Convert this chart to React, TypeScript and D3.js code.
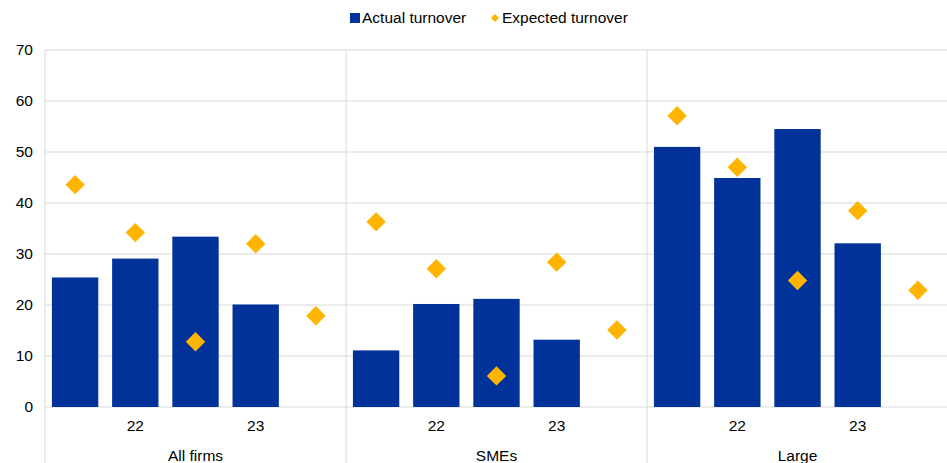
import { useEffect } from 'react';
import * as d3 from 'd3';

const groups = ['All firms', 'SMEs', 'Large'];
const periods = ['p1', 'p2', 'p3', 'p4', 'p5'];
const periodLabels = ['', '22', '', '23', ''];

// actual turnover (no value for the last period)
const actualAll = [25.4, 29.1, 33.4, 20.1, null];
const actualSme = [11.1, 20.2, 21.2, 13.2, null];
const actualLarge = [51.0, 44.9, 54.5, 32.1, null];

// expected turnover
const expectedAll = [43.6, 34.2, 12.8, 32.0, 17.9];
const expectedSme = [36.3, 27.1, 6.1, 28.4, 15.1];
const expectedLarge = [57.1, 47.0, 24.8, 38.5, 22.9];

const yTicks = [0, 10, 20, 30, 40, 50, 60, 70];

const W = 947;
const H = 463;
const margin = { top: 50, right: -1, bottom: 56, left: 45 };
const BLUE = '#003299';
const YELLOW = '#FFB400';
const GRID = '#d9d9d9';
const FONT = '"Liberation Sans", Arial, sans-serif';

export default function App() {
  useEffect(() => {
    document.body.style.margin = '0';
  }, []);

  const actual = [actualAll, actualSme, actualLarge];
  const expected = [expectedAll, expectedSme, expectedLarge];

  const x0 = d3.scaleBand().domain(groups).range([margin.left, W - margin.right]);
  const x1 = d3.scaleBand().domain(periods).range([0, x0.bandwidth()]).paddingInner(0.23).paddingOuter(0.115);
  const slot = d3.scaleBand().domain(periods).range([0, x0.bandwidth()]);
  const y = d3.scaleLinear().domain([0, 70]).range([H - margin.bottom, margin.top]);
  const diamond = d3.symbol().type(d3.symbolDiamond2).size(240)();

  return (
    <svg width={W} height={H} style={{ display: 'block', fontFamily: FONT }}>
      {/* gridlines */}
      {yTicks.map(t => (
        <line key={t} x1={margin.left} x2={W} y1={y(t)} y2={y(t)} stroke={GRID} strokeWidth={1} />
      ))}
      {/* group separators + left axis */}
      {groups.map(g => (
        <line key={g} x1={x0(g)!} x2={x0(g)!} y1={margin.top} y2={H} stroke={GRID} strokeWidth={1} />
      ))}
      {/* y tick labels */}
      {yTicks.map(t => (
        <text key={t} x={33} y={y(t)} dy="0.35em" textAnchor="end" fontSize={15.5} fill="#000">{t}</text>
      ))}
      {groups.map((g, gi) => (
        <g key={g} transform={`translate(${x0(g)},0)`}>
          {periods.map((p, i) => {
            const v = actual[gi][i];
            if (v == null) return null;
            return <rect key={p} x={x1(p)!} width={x1.bandwidth()} y={y(v)} height={y(0) - y(v)} fill={BLUE} />;
          })}
          {periods.map((p, i) => (
            <path key={p} d={diamond!} fill={YELLOW}
              transform={`translate(${slot(p)! + slot.bandwidth() / 2},${y(expected[gi][i])})`} />
          ))}
          {periods.map((p, i) => periodLabels[i] ? (
            <text key={p} x={slot(p)! + slot.bandwidth() / 2} y={431} textAnchor="middle" fontSize={15.5}>{periodLabels[i]}</text>
          ) : null)}
          <text x={x0.bandwidth() / 2} y={461} textAnchor="middle" fontSize={15.5}>{g}</text>
        </g>
      ))}
      {/* legend */}
      <rect x={350} y={13} width={10} height={10} fill={BLUE} />
      <text x={362} y={23} fontSize={15.5}>Actual turnover</text>
      <path d={d3.symbol().type(d3.symbolDiamond2).size(40)()!} fill={YELLOW} transform="translate(495,18)" />
      <text x={502} y={23} fontSize={15.5}>Expected turnover</text>
    </svg>
  );
}
